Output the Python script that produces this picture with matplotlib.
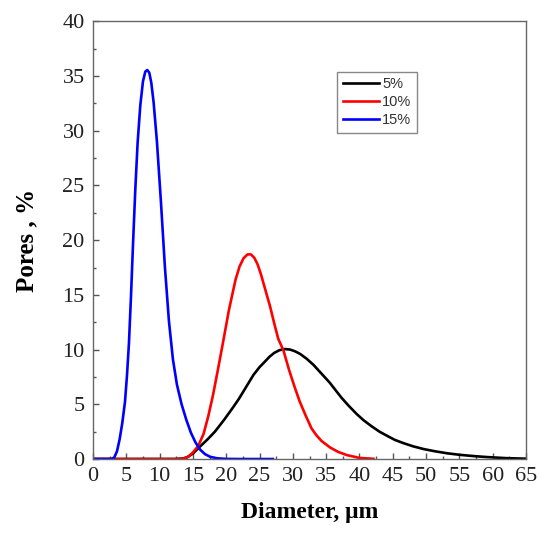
import matplotlib
matplotlib.use("Agg")
import matplotlib.pyplot as plt
from matplotlib.ticker import MultipleLocator

# 5% series
x_5 = [0, 12.5, 13.5, 14.1, 15.0, 16.0, 17.2, 18.3, 19.7, 21.0, 21.9, 22.7, 23.4, 24.1, 25.0,
       25.8, 26.5, 27.2, 28.0, 28.8, 29.6, 30.3, 31.1, 32.1, 33.1, 34.3, 35.5, 36.4, 37.3,
       38.4, 39.6, 40.6, 41.8, 43.0, 44.2, 45.3, 46.6, 48.1, 49.7, 51.4, 53.2, 55.1, 57.1,
       59.1, 62.0, 65.0]
y_5 = [0, 0, 0.05, 0.15, 0.5, 1.1, 1.8, 2.5, 3.6, 4.7, 5.5, 6.3, 7.0, 7.7, 8.4,
       8.9, 9.35, 9.7, 9.95, 10.05, 10.0, 9.85, 9.6, 9.15, 8.6, 7.8, 7.0, 6.3, 5.6,
       4.85, 4.1, 3.55, 3.0, 2.5, 2.1, 1.75, 1.45, 1.15, 0.9, 0.7, 0.52, 0.38, 0.27,
       0.18, 0.08, 0.03]

# 10% series
x_10 = [0, 12.5, 13.5, 14.3, 15.0, 15.8, 16.6, 17.3, 18.0, 18.7, 19.5, 20.4, 21.4, 22.0, 22.6,
        23.2, 23.7, 24.2, 24.7, 25.2, 25.9, 26.6, 27.2, 27.8, 28.6, 29.4, 30.2, 31.0, 31.9,
        32.8, 33.5, 34.3, 35.6, 36.8, 38.1, 40.0, 42.1]
y_10 = [0, 0, 0.03, 0.2, 0.6, 1.2, 2.3, 3.9, 5.8, 8.0, 10.6, 13.6, 16.4, 17.6, 18.35,
        18.7, 18.7, 18.4, 17.8, 16.9, 15.4, 13.9, 12.4, 11.0, 9.9, 8.2, 6.7, 5.3, 4.0,
        2.8, 2.2, 1.65, 1.05, 0.65, 0.36, 0.1, 0.02]

# 15% series
x_15 = [0, 2.8, 3.2, 3.6, 4.0, 4.4, 4.8, 5.1, 5.4, 5.7, 6.0, 6.35, 6.7, 7.1, 7.5, 7.85, 8.15,
        8.45, 8.75, 9.1, 9.6, 10.2, 10.8, 11.4, 12.0, 12.6, 13.3, 14.0, 14.7, 15.4, 16.1, 16.8,
        17.6, 18.6, 20.0, 22.0, 27.0]
y_15 = [0, 0, 0.15, 0.7, 1.8, 3.3, 5.2, 7.6, 10.6, 14.8, 19.5, 24.6, 28.9, 32.3, 34.5, 35.4, 35.55,
        35.3, 34.4, 32.6, 29.0, 23.5, 17.5, 12.6, 9.1, 6.8, 5.0, 3.6, 2.4, 1.5, 0.85, 0.45,
        0.2, 0.07, 0.01, 0, 0]

labels = ["5%", "10%", "15%"]
colors = ["black", "#ff0000", "#0000ff"]

fig = plt.figure(figsize=(5.39, 5.33), dpi=100)
ax = fig.add_axes([0.1725, 0.1388, 0.8035, 0.8212])

for xs, ys, lab, c in zip([x_5, x_10, x_15], [y_5, y_10, y_15], labels, colors):
    ax.plot(xs, ys, color=c, lw=1.9, label=lab, solid_joinstyle="round")

ax.set_xlim(0, 65)
ax.set_ylim(0, 40)
ax.xaxis.set_major_locator(MultipleLocator(5))
ax.xaxis.set_minor_locator(MultipleLocator(2.5))
ax.yaxis.set_major_locator(MultipleLocator(5))
ax.yaxis.set_minor_locator(MultipleLocator(2.5))
ax.tick_params(which="both", direction="in", top=False, right=False, colors="#555555",
               labelcolor="#222222")
ax.tick_params(which="major", length=4, width=1)
ax.tick_params(which="minor", length=2.5, width=1)
ax.tick_params(axis="x", which="major", pad=6)
ax.tick_params(axis="y", which="major", pad=6)
for lab in ax.get_xticklabels() + ax.get_yticklabels():
    lab.set_fontfamily("Liberation Serif")
    lab.set_fontsize(16)

for s in ax.spines.values():
    s.set_color("#666666")
    s.set_linewidth(1.0)

ax.set_xlabel("Diameter, μm", fontfamily="Liberation Serif", fontweight="bold",
              fontsize=17, labelpad=11)
ax.set_ylabel("Pores , %", fontfamily="Liberation Serif", fontweight="bold",
              fontsize=18, labelpad=17)

leg = ax.legend(loc="upper left", bbox_to_anchor=(0.563, 0.885), borderaxespad=0,
                prop={"family": "Liberation Sans", "size": 10.5}, fancybox=False,
                handlelength=2.5, handletextpad=0.2, labelspacing=0.25,
                borderpad=0.4, framealpha=1)
leg.get_frame().set_edgecolor("#888888")
leg.get_frame().set_linewidth(1.0)
for t in leg.get_texts():
    t.set_color("#333333")

fig.savefig("out.png", dpi=100)
